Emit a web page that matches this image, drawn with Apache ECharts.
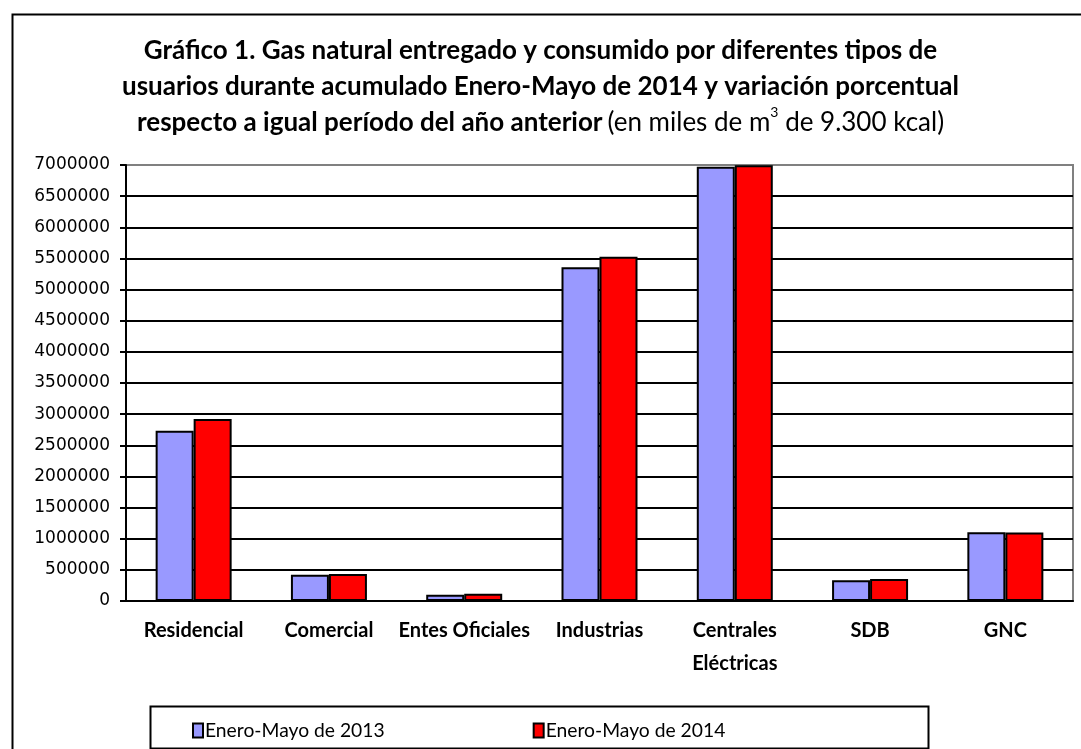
<!DOCTYPE html>
<html>
<head>
<meta charset="utf-8">
<script src="https://cdn.jsdelivr.net/npm/echarts@6/dist/echarts.min.js"></script>
<style>
  html, body { margin: 0; padding: 0; background: #fff; }
  #main { width: 1081px; height: 749px; }
</style>
</head>
<body>
<div id="main"></div>
<script>
// categorías de usuarios
var categories = ['Residencial', 'Comercial', 'Entes Oficiales', 'Industrias', 'Centrales\nEléctricas', 'SDB', 'GNC'];
// miles de m3
var values2013 = [2734000, 422000, 100000, 5357000, 6973000, 332000, 1103000];
var values2014 = [2922000, 433000, 117000, 5528000, 6995000, 353000, 1100000];
var seriesNames = ['Enero-Mayo de 2013', 'Enero-Mayo de 2014'];

var chart = echarts.init(document.getElementById('main'));

// lineas de la grilla negras, la de arriba gris (borde del area)
var gridColors = [];
for (var i = 0; i < 14; i++) gridColors.push('#000');
gridColors.push('#808080');

var option = {
    animation: false,
    backgroundColor: '#fff',
    title: {
        left: 'center',
        top: 28,
        text: '{b|Gráfico 1. Gas natural entregado y consumido por diferentes tipos de}\n' +
              '{b|usuarios durante acumulado Enero-Mayo de 2014 y variación porcentual}\n' +
              '{b|respecto a igual período del año anterior} {n|(en miles de m}{s|3}{n| de 9.300 kcal)}',
        textStyle: {
            rich: {
                b: { fontFamily: 'Lato', fontWeight: 'bold', fontSize: 26, color: '#000', lineHeight: 36, align: 'center' },
                n: { fontFamily: 'Lato', fontWeight: 'normal', fontSize: 26, color: '#000', lineHeight: 36, align: 'center' },
                s: { fontFamily: 'Lato', fontWeight: 'normal', fontSize: 14, color: '#000', lineHeight: 36, verticalAlign: 'top', padding: [0, 0, 12, 0], align: 'center' }
            }
        }
    },
    legend: {
        left: 187,
        top: 716,
        itemWidth: 10,
        itemHeight: 14,
        itemGap: 148,
        icon: 'rect',
        textStyle: { fontFamily: 'Lato', fontSize: 19.3, color: '#000', padding: [0, 0, 0, -3] },
        data: seriesNames
    },
    grid: {
        left: 126,
        right: 8,
        top: 165,
        bottom: 148,
        show: true,
        borderColor: '#808080',
        borderWidth: 2
    },
    xAxis: {
        type: 'category',
        data: categories,
        axisLine: { lineStyle: { color: '#000', width: 2 } },
        axisTick: { length: 7, lineStyle: { color: '#000', width: 2 } },
        axisLabel: {
            interval: 0,
            margin: 13,
            fontFamily: 'Lato',
            fontWeight: 'bold',
            fontSize: 20,
            lineHeight: 33,
            color: '#000'
        }
    },
    yAxis: {
        type: 'value',
        min: 0,
        max: 7000000,
        interval: 500000,
        axisLine: { show: true, lineStyle: { color: '#000', width: 2 } },
        axisTick: { show: true, length: 6, lineStyle: { color: '#000', width: 2 } },
        splitLine: { lineStyle: { color: gridColors, width: 2 } },
        axisLabel: {
            margin: 16,
            fontFamily: 'DejaVu Sans',
            fontSize: 17,
            color: '#000',
            formatter: function (v) { return String(v); }
        }
    },
    series: [
        {
            name: seriesNames[0],
            type: 'bar',
            data: values2013,
            barWidth: 38,
            barGap: '0%',
            itemStyle: { color: '#9999FF', borderColor: '#000', borderWidth: 2 }
        },
        {
            name: seriesNames[1],
            type: 'bar',
            data: values2014,
            barWidth: 38,
            barGap: '0%',
            itemStyle: { color: '#FF0000', borderColor: '#000', borderWidth: 2 }
        }
    ],
    graphic: [
        {
            type: 'rect',
            left: 10, top: 12,
            shape: { width: 1090, height: 760 },
            style: { fill: 'none', stroke: '#000', lineWidth: 2 },
            silent: true, z: -1
        },
        {
            type: 'rect',
            left: 148, top: 704,
            shape: { width: 778, height: 42 },
            style: { fill: 'none', stroke: '#000', lineWidth: 2 },
            silent: true
        }
    ]
};

chart.setOption(option);
</script>
</body>
</html>
